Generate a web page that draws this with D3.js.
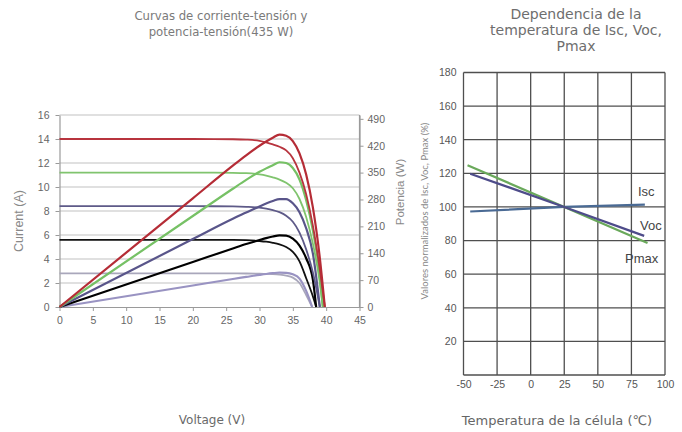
<!DOCTYPE html>
<html>
<head>
<meta charset="utf-8">
<script src="https://cdn.jsdelivr.net/npm/d3@7"></script>
<style>
  body { margin: 0; background: #fff; }
  svg { display: block; }
  .tick text { font-family: "Liberation Sans", Arial, sans-serif; }
</style>
</head>
<body>
<div id="vis"></div>
<script>
// constants for the page
const FRAME_WIDTH = 682;
const FRAME_HEIGHT = 432;

// I-V / P-V curves, one set per irradiance level (voltage in V, current in A, power in W)
const RED_V = [0, 20, 26, 28, 30, 31, 32, 33, 34, 35, 36, 37, 38, 39, 39.8];
const RED_I = [14, 14, 13.98, 13.95, 13.85, 13.72, 13.55, 13.35, 13.05, 12.4, 11.2, 9.4, 6.8, 3.3, 0];
const RED_P = [0, 283, 368, 395, 420, 431, 441, 449, 446, 432, 400, 345, 260, 135, 0];

const GREEN_V = [0, 20, 26, 28, 30, 31, 32, 33, 34, 35, 36, 37, 38, 39, 39.5];
const GREEN_I = [11.2, 11.2, 11.18, 11.15, 11.05, 10.95, 10.8, 10.62, 10.35, 9.9, 9.0, 7.5, 5.3, 2.2, 0];
const GREEN_P = [0, 237, 308, 331, 352, 361, 369, 377, 375, 362, 332, 278, 200, 88, 0];

const PURPLE_V = [0, 20, 26, 28, 30, 31, 32, 33, 34, 35, 36, 37, 38, 39.05];
const PURPLE_I = [8.4, 8.4, 8.38, 8.35, 8.28, 8.2, 8.08, 7.9, 7.6, 7.1, 6.2, 4.8, 2.9, 0];
const PURPLE_P = [0, 177, 230, 246, 262, 269.5, 276, 281, 281, 270, 247, 205, 140, 0];

const BLACK_V = [0, 20, 26, 28, 30, 31, 32, 33, 34, 35, 36, 37, 38, 38.5];
const BLACK_I = [5.6, 5.6, 5.59, 5.57, 5.5, 5.44, 5.35, 5.22, 5.0, 4.6, 3.8, 2.4, 0.9, 0];
const BLACK_P = [0, 117, 152.5, 164, 174.5, 179.5, 183.5, 186.5, 186, 178, 160, 127, 72, 0];

const LAV_V = [0, 20, 26, 28, 30, 31, 32, 33, 34, 35, 36, 37, 37.9];
const LAV_I = [2.8, 2.8, 2.8, 2.79, 2.78, 2.76, 2.74, 2.7, 2.62, 2.45, 2.0, 1.0, 0];
const LAV_P = [0, 56, 73, 78.3, 83.6, 86, 88, 89.5, 89, 85, 74, 42, 0];

// tick labels of the left chart
const VOLT_TICKS = [0, 5, 10, 15, 20, 25, 30, 35, 40, 45];
const CURRENT_TICKS = [0, 2, 4, 6, 8, 10, 12, 14, 16];
const POWER_TICKS = [0, 70, 140, 210, 280, 350, 420, 490];

// temperature dependence (temperature in C, value in %)
const ISC_T = [-45, 25, 85];
const ISC_VAL = [97.3, 100, 101.4];
const VOC_T = [-45, 25, 84.5];
const VOC_VAL = [119.8, 100, 82.8];
const PMAX_T = [-47, 25, 87];
const PMAX_VAL = [124.8, 100, 78.5];

const TEMP_TICKS = [-50, -25, 0, 25, 50, 75, 100];
const PCT_TICKS = [20, 40, 60, 80, 100, 120, 140, 160, 180];

const SVG = d3.select("#vis")
  .append("svg")
  .attr("width", FRAME_WIDTH)
  .attr("height", FRAME_HEIGHT);

// ---------- left chart: I-V and P-V curves ----------
const X_VOLT = d3.scaleLinear().domain([0, 45]).range([59.5, 359.5]);
const Y_CURR = d3.scaleLinear().domain([0, 16]).range([307, 115]);
const Y_POW = d3.scaleLinear().domain([0, 500]).range([307, 115]);

// light horizontal grid
SVG.append("g")
  .selectAll("line")
  .data(CURRENT_TICKS.filter((d) => d > 0))
  .enter()
  .append("line")
  .attr("x1", X_VOLT(0))
  .attr("x2", X_VOLT(45))
  .attr("y1", (d) => Y_CURR(d))
  .attr("y2", (d) => Y_CURR(d))
  .attr("stroke", "#c2c2c2")
  .attr("stroke-width", 1.2);

// axes
function styleAxis(g) {
  g.selectAll(".domain").attr("stroke", "#9a9a9a").attr("stroke-width", 1.2);
  g.selectAll(".tick line").attr("stroke", "#9a9a9a");
  g.selectAll(".tick text").attr("fill", "#666").attr("font-size", "10.5px");
}

SVG.append("g")
  .attr("transform", "translate(0," + Y_CURR(0) + ")")
  .call(d3.axisBottom(X_VOLT).tickValues(VOLT_TICKS).tickSize(4).tickPadding(6).tickSizeOuter(0))
  .call(styleAxis);

SVG.append("g")
  .attr("transform", "translate(" + X_VOLT(0) + ",0)")
  .call(d3.axisLeft(Y_CURR).tickValues(CURRENT_TICKS).tickSize(4).tickPadding(6).tickSizeOuter(0))
  .call(styleAxis);

SVG.append("g")
  .attr("transform", "translate(" + X_VOLT(45) + ",0)")
  .call(d3.axisRight(Y_POW).tickValues(POWER_TICKS).tickSize(4).tickPadding(4).tickSizeOuter(0))
  .call(styleAxis);
// right axis line runs to the top of the plot
SVG.append("line")
  .attr("x1", X_VOLT(45)).attr("x2", X_VOLT(45))
  .attr("y1", Y_CURR(16)).attr("y2", Y_CURR(0))
  .attr("stroke", "#9a9a9a").attr("stroke-width", 1.2);

const CURVES = [
  { v: LAV_V, i: LAV_I, p: LAV_P, ivColor: "#a9a7bb", pColor: "#9993c2" },
  { v: BLACK_V, i: BLACK_I, p: BLACK_P, ivColor: "#111", pColor: "#000" },
  { v: PURPLE_V, i: PURPLE_I, p: PURPLE_P, ivColor: "#5e5a88", pColor: "#59558a" },
  { v: GREEN_V, i: GREEN_I, p: GREEN_P, ivColor: "#80c46e", pColor: "#76c165" },
  { v: RED_V, i: RED_I, p: RED_P, ivColor: "#b8343e", pColor: "#b52c36" }
];

const IV_LINE = d3.line()
  .x((d) => X_VOLT(d[0]))
  .y((d) => Y_CURR(d[1]))
  .curve(d3.curveMonotoneX);

const P_LINE = d3.line()
  .x((d) => X_VOLT(d[0]))
  .y((d) => Y_POW(d[1]))
  .curve(d3.curveMonotoneX);

CURVES.forEach((c) => {
  SVG.append("path")
    .datum(c.v.map((v, k) => [v, c.i[k]]))
    .attr("d", IV_LINE)
    .attr("fill", "none")
    .attr("stroke", c.ivColor)
    .attr("stroke-width", 1.8);
  SVG.append("path")
    .datum(c.v.map((v, k) => [v, c.p[k]]))
    .attr("d", P_LINE)
    .attr("fill", "none")
    .attr("stroke", c.pColor)
    .attr("stroke-width", 2.2);
});

// titles of the left chart (wide geometric look)
const TITLE_FONT = "'DejaVu Sans', Verdana, sans-serif";
SVG.append("text")
  .attr("x", 221).attr("y", 20)
  .attr("text-anchor", "middle")
  .attr("font-family", TITLE_FONT).attr("font-size", "11.7px").attr("fill", "#7a7a7a")
  .text("Curvas de corriente-tensión y");
SVG.append("text")
  .attr("x", 221).attr("y", 35.5)
  .attr("text-anchor", "middle")
  .attr("font-family", TITLE_FONT).attr("font-size", "11.7px").attr("fill", "#7a7a7a")
  .text("potencia-tensión(435 W)");

SVG.append("text")
  .attr("transform", "translate(23,221) rotate(-90)")
  .attr("text-anchor", "middle")
  .attr("font-family", "'Liberation Sans', Arial, sans-serif").attr("font-size", "12.5px").attr("fill", "#888")
  .text("Current (A)");
SVG.append("text")
  .attr("transform", "translate(404,192) rotate(-90)")
  .attr("text-anchor", "middle")
  .attr("font-family", "'Liberation Sans', Arial, sans-serif").attr("font-size", "11.5px").attr("fill", "#888")
  .text("Potencia (W)");
SVG.append("text")
  .attr("x", 212).attr("y", 424)
  .attr("text-anchor", "middle")
  .attr("font-family", TITLE_FONT).attr("font-size", "12px").attr("fill", "#6a6a6a")
  .text("Voltage (V)");

// ---------- right chart: temperature dependence ----------
const X_TEMP = d3.scaleLinear().domain([-50, 100]).range([463.5, 665]);
const Y_PCT = d3.scaleLinear().domain([0, 180]).range([375, 72.5]);

// dark square grid
SVG.append("g")
  .selectAll("line")
  .data(TEMP_TICKS)
  .enter()
  .append("line")
  .attr("x1", (d) => X_TEMP(d)).attr("x2", (d) => X_TEMP(d))
  .attr("y1", Y_PCT(0)).attr("y2", Y_PCT(180))
  .attr("stroke", "#4f4f4f").attr("stroke-width", 1.3);
SVG.append("g")
  .selectAll("line")
  .data([0].concat(PCT_TICKS))
  .enter()
  .append("line")
  .attr("x1", X_TEMP(-50)).attr("x2", X_TEMP(100))
  .attr("y1", (d) => Y_PCT(d)).attr("y2", (d) => Y_PCT(d))
  .attr("stroke", "#4f4f4f").attr("stroke-width", 1.3);

SVG.append("g")
  .attr("transform", "translate(0," + Y_PCT(0) + ")")
  .call(d3.axisBottom(X_TEMP).tickValues(TEMP_TICKS).tickFormat((d) => String(d)).tickSize(0).tickPadding(6))
  .call((g) => g.select(".domain").remove())
  .call((g) => g.selectAll(".tick text").attr("fill", "#555").attr("font-size", "10.5px"));

SVG.append("g")
  .attr("transform", "translate(" + X_TEMP(-50) + ",0)")
  .call(d3.axisLeft(Y_PCT).tickValues(PCT_TICKS).tickSize(0).tickPadding(7))
  .call((g) => g.select(".domain").remove())
  .call((g) => g.selectAll(".tick text").attr("fill", "#555").attr("font-size", "10.5px"));

const TEMP_LINES = [
  { t: ISC_T, v: ISC_VAL, color: "#4a6a94" },
  { t: PMAX_T, v: PMAX_VAL, color: "#6aa95b" },
  { t: VOC_T, v: VOC_VAL, color: "#4e4c8a" }
];

const T_LINE = d3.line()
  .x((d) => X_TEMP(d[0]))
  .y((d) => Y_PCT(d[1]));

TEMP_LINES.forEach((s) => {
  SVG.append("path")
    .datum(s.t.map((t, k) => [t, s.v[k]]))
    .attr("d", T_LINE)
    .attr("fill", "none")
    .attr("stroke", s.color)
    .attr("stroke-width", 2.2);
});

// series labels
[["Isc", 638, 196], ["Voc", 640, 230], ["Pmax", 625, 263]].forEach((l) => {
  SVG.append("text")
    .attr("x", l[1]).attr("y", l[2])
    .attr("font-family", "'Liberation Sans', Arial, sans-serif").attr("font-size", "13px").attr("fill", "#444")
    .text(l[0]);
});

// titles of the right chart
["Dependencia de la", "temperatura de Isc, Voc,", "Pmax"].forEach((t, k) => {
  SVG.append("text")
    .attr("x", 576).attr("y", 19 + k * 16)
    .attr("text-anchor", "middle")
    .attr("font-family", TITLE_FONT).attr("font-size", "14px").attr("fill", "#6e6e6e")
    .text(t);
});

SVG.append("text")
  .attr("transform", "translate(428,211) rotate(-90)")
  .attr("text-anchor", "middle")
  .attr("font-family", "Lato, sans-serif").attr("font-size", "9.5px").attr("fill", "#888")
  .text("Valores normalizados de Isc, Voc, Pmax (%)");

SVG.append("text")
  .attr("x", 557).attr("y", 425)
  .attr("text-anchor", "middle")
  .attr("font-family", TITLE_FONT).attr("font-size", "13px").attr("fill", "#666")
  .text("Temperatura de la célula (℃)");
</script>
</body>
</html>
